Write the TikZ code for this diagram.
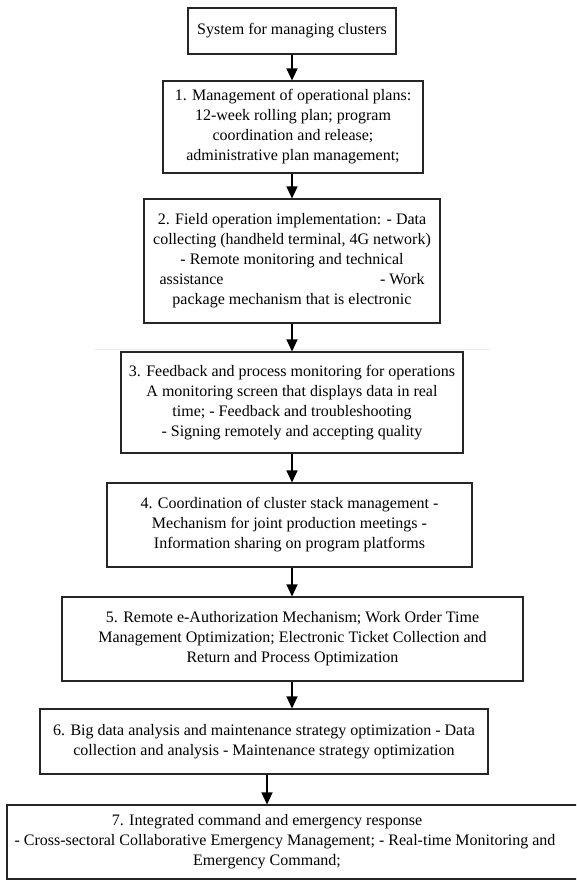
\documentclass[tikz,border=0pt]{standalone}
\usepackage{fontspec}
\setmainfont{Liberation Serif}
\newfontfamily\tnr{Liberation Serif}
\usetikzlibrary{arrows.meta}
\begin{document}
\begin{tikzpicture}[x=1pt,y=-1pt,
  box/.style={draw=black!85, line width=1.1pt, align=center, inner sep=0pt,
    font=\tnr\fontsize{16}{20}\selectfont},
  txt/.style={align=center, inner sep=0pt, font=\tnr\fontsize{16}{20}\selectfont},
  arr/.style={-{Triangle[length=12pt,width=11pt]}, line width=1.1pt, black}]
\clip (0,0) rectangle (576,881);
\fill[white] (0,0) rectangle (576,881);
\node[box, minimum width=208pt, minimum height=46pt] (b0) at (292,31) {System for managing clusters};
\node[box, minimum width=260pt, minimum height=92pt] (b1) at (293,127) {1. Management of operational plans:\\ 12-week rolling plan; program\\ coordination and release;\\ administrative plan management;};
\node[box, minimum width=296pt, minimum height=124pt] (b2) at (292,261) {2. Field operation implementation: - Data\\ collecting (handheld terminal, 4G network)\\ - Remote monitoring and technical\\ \makebox[265pt]{assistance\hfill - Work}\\ package mechanism that is electronic};
\draw[black!8, line width=1pt] (95,349) -- (490,349);
\node[box, minimum width=342pt, minimum height=101pt] (b3) at (292,402.5) {3. Feedback and process monitoring for operations\\ A monitoring screen that displays data in real\\ time; - Feedback and troubleshooting\\ - Signing remotely and accepting quality};
\node[box, minimum width=365pt, minimum height=84pt] (b4) at (289.5,525) {4. Coordination of cluster stack management -\\ Mechanism for joint production meetings -\\ Information sharing on program platforms};
\node[box, minimum width=461pt, minimum height=84pt] (b5) at (292.5,639) {5. Remote e-Authorization Mechanism; Work Order Time\\ Management Optimization; Electronic Ticket Collection and\\ Return and Process Optimization};
\node[box, minimum width=448pt, minimum height=65pt] (b6) at (264,741.5) {6. Big data analysis and maintenance strategy optimization - Data\\ collection and analysis - Maintenance strategy optimization};
\node[box, minimum width=590pt, minimum height=74pt] (b7) at (302,842) {};
\node[txt] (t7) at (267,842) {7. Integrated command and emergency response\\ \hspace*{36pt}- Cross-sectoral Collaborative Emergency Management; - Real-time Monitoring and\\ Emergency Command;};
\draw[arr] (b0.south) -- (b0.south |- b1.north);
\draw[arr] (b1.south -| b0.center) -- (b2.north -| b0.center);
\draw[arr] (b2.south -| b0.center) -- (b3.north -| b0.center);
\draw[arr] (b3.south -| b0.center) -- (b4.north -| b0.center);
\draw[arr] (b4.south -| b0.center) -- (b5.north -| b0.center);
\draw[arr] (b5.south -| b0.center) -- (b6.north -| b0.center);
\draw[arr] (b6.south -| t7.center) -- (b7.north -| t7.center);
\end{tikzpicture}
\end{document}
